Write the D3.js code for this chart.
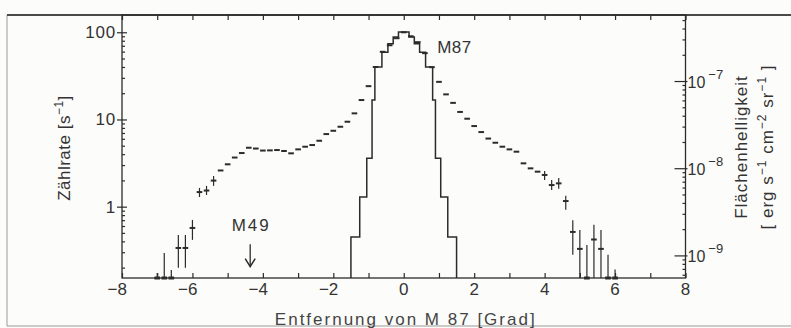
<!DOCTYPE html>
<html>
<head>
<meta charset="utf-8">
<script src="https://cdn.jsdelivr.net/npm/d3@7"></script>
<style>
  body { margin: 0; background: #fcfcfa; }
  svg { display: block; font-family: "Liberation Sans", Arial, sans-serif; }
  .axis .domain { display: none; }
  .axis line { stroke: #2b2b2b; stroke-width: 1.2; }
</style>
</head>
<body>
<div id="chart"></div>
<script>
// Distance from M87 in degrees (profile bins)
var distances = [-7.0, -6.8, -6.6, -6.4, -6.2, -6.0, -5.8, -5.6, -5.4, -5.2, -5.0, -4.8, -4.6, -4.4, -4.2, -4.0,
  -3.8, -3.6, -3.4, -3.2, -3.0, -2.8, -2.6, -2.4, -2.2, -2.0, -1.8, -1.6, -1.4, -1.2, -1.0, -0.8, -0.6, -0.4, -0.2,
  0.0, 0.2, 0.4, 0.6, 0.8, 1.0, 1.2, 1.4, 1.6, 1.8, 2.0, 2.2, 2.4, 2.6, 2.8, 3.0, 3.2, 3.4, 3.6, 3.8, 4.0,
  4.2, 4.4, 4.6, 4.8, 5.0, 5.2, 5.4, 5.6, 5.8, 6.0];

// Count rate [s^-1]; 0.1 = below the plotted range (drawn on the axis)
var countRate = [0.1, 0.1, 0.1, 0.336, 0.336, 0.57, 1.47, 1.53, 1.99, 2.6, 3.06, 3.66, 4.12, 4.74, 4.64, 4.4,
  4.42, 4.46, 4.35, 4.09, 4.54, 4.87, 5.09, 5.7, 6.8, 7.42, 8.25, 9.42, 11.75, 16.7, 24.1, 40, 59.7, 71, 85.5,
  100, 90, 77, 57.6, 39.8, 27, 19.4, 15.5, 12.2, 10.2, 8.4, 7.17, 6.04, 5.41, 4.87, 4.54, 4.27, 3.14, 2.75, 2.52, 2.31,
  1.77, 1.85, 1.16, 0.513, 0.328, 0.1, 0.42, 0.328, 0.1, 0.1];

// Error bars that are visible in the figure
var errDist = [-7.0, -6.8, -6.6, -6.4, -6.2, -6.0, -5.8, -5.6, -5.4, 4.0, 4.2, 4.4, 4.6, 4.8, 5.0, 5.2, 5.4, 5.6, 5.8, 6.0];
var errHigh = [0.174, 0.295, 0.188, 0.474, 0.474, 0.705, 1.64, 1.73, 2.25, 2.56, 2.02, 2.13, 1.33, 0.70, 0.54, 0.364, 0.62, 0.54, 0.28, 0.19];
var errLow  = [0.1, 0.1, 0.1, 0.199, 0.199, 0.416, 1.29, 1.36, 1.73, 2.02, 1.55, 1.6, 0.92, 0.28, 0.1, 0.1, 0.1, 0.1, 0.1, 0.1];

// Point response of the telescope (step histogram)
var psfEdges  = [-1.5, -1.25, -1.05, -0.9, -0.82, -0.62, -0.45, -0.3, -0.15, 0.15, 0.3, 0.45, 0.62, 0.82, 0.9, 1.05, 1.25, 1.5];
var psfLevels = [0.45, 1.29, 3.6, 16.7, 40, 59, 74, 88, 101, 88, 74, 59, 40, 16.7, 3.6, 1.29, 0.45];

var xTicks = [-8, -6, -4, -2, 0, 2, 4, 6, 8];
var yTicks = [1, 10, 100];
var sbTicks = [1e-9, 1e-8, 1e-7];
var sbTickExp = ['9', '8', '7'];

// 27.6 counts/s correspond to 1e-7 erg s^-1 cm^-2 sr^-1
var sbPerRate = 1e-7 / 27.6;

var width = 791,
  height = 328;

var ink = '#2b2b2b';

var svg = d3.select('#chart')
  .append('svg')
  .attr('width', width)
  .attr('height', height);

var x = d3.scaleLinear()
  .domain([-8, 8])
  .range([122, 685.5]);

var y = d3.scaleLog()
  .domain([0.152, 157.8])
  .range([278, 15])
  .clamp(true);

var y2 = d3.scaleLog()
  .domain(y.domain().map(function(v) { return v * sbPerRate; }))
  .range(y.range());

var x0 = x.range()[0], x1 = x.range()[1];
var yTop = y.range()[1], yBot = y.range()[0];

// Scanned page frame
svg.append('path')
  .attr('d', 'M7,15V326H791')
  .attr('fill', 'none')
  .attr('stroke', '#9a9a9a')
  .attr('stroke-width', 1);

svg.append('line')
  .attr('x1', 7).attr('x2', 791)
  .attr('y1', yTop).attr('y2', yTop)
  .attr('stroke', '#4a4a4a')
  .attr('stroke-width', 2);

// Plot box
svg.append('rect')
  .attr('x', x0).attr('y', yTop)
  .attr('width', x1 - x0).attr('height', yBot - yTop)
  .attr('fill', 'none')
  .attr('stroke', ink)
  .attr('stroke-width', 1.3);

// Ticks on bottom and top, every degree
svg.append('g')
  .attr('class', 'axis')
  .attr('transform', 'translate(0,' + yBot + ')')
  .call(d3.axisBottom(x).tickValues(d3.range(-8, 9)).tickSize(-5).tickFormat(''));

svg.append('g')
  .attr('class', 'axis')
  .attr('transform', 'translate(0,' + yTop + ')')
  .call(d3.axisTop(x).tickValues(d3.range(-8, 9)).tickSize(-5).tickFormat(''));

// X tick labels (digit centred on the tick, minus hanging to the left)
svg.append('g')
  .selectAll('text')
  .data(xTicks)
  .enter()
  .append('text')
  .attr('x', function(d) { return x(d) + (d < 0 ? 5 : 0); })
  .attr('y', 295)
  .attr('text-anchor', function(d) { return d < 0 ? 'end' : 'middle'; })
  .attr('font-size', 17)
  .attr('fill', '#333')
  .text(function(d) { return d < 0 ? '\u2212' + Math.abs(d) : d; });

// Left axis: major ticks crossing the axis, minor ticks inside
var minorY = y.ticks().filter(function(d) { return yTicks.indexOf(d) < 0; });

svg.append('g')
  .attr('class', 'axis')
  .attr('transform', 'translate(' + (x0 + 5) + ',0)')
  .call(d3.axisLeft(y).tickValues(yTicks).tickSize(10).tickFormat(''));

svg.append('g')
  .attr('class', 'axis')
  .attr('transform', 'translate(' + x0 + ',0)')
  .call(d3.axisRight(y).tickValues(minorY).tickSize(3).tickFormat(''));

svg.append('g')
  .selectAll('text')
  .data(yTicks)
  .enter()
  .append('text')
  .attr('x', 116)
  .attr('y', function(d) { return y(d) + 6; })
  .attr('text-anchor', 'end')
  .attr('font-size', 17)
  .attr('letter-spacing', 0.8)
  .attr('fill', '#333')
  .text(function(d) { return d; });

// Right axis: surface brightness
var minorSB = y2.ticks().filter(function(d) {
  var e = Math.log10(d);
  return Math.abs(e - Math.round(e)) > 1e-6;
});

svg.append('g')
  .attr('class', 'axis')
  .attr('transform', 'translate(' + (x1 + 2) + ',0)')
  .call(d3.axisLeft(y2).tickValues(sbTicks).tickSize(13).tickFormat(''));

svg.append('g')
  .attr('class', 'axis')
  .attr('transform', 'translate(' + x1 + ',0)')
  .call(d3.axisLeft(y2).tickValues(minorSB).tickSize(3).tickFormat(''));

var sbLab = svg.append('g')
  .selectAll('text')
  .data(sbTicks)
  .enter()
  .append('text')
  .attr('x', x1 + 2)
  .attr('y', function(d) { return y2(d) + 7; })
  .attr('font-size', 16)
  .attr('fill', '#333');

sbLab.append('tspan').text('10');
sbLab.append('tspan')
  .attr('dx', 3)
  .attr('dy', -9)
  .attr('font-size', 13)
  .text(function(d, i) { return '\u2212' + sbTickExp[i]; });

// Axis titles
var yTitle = svg.append('text')
  .attr('transform', 'translate(70,148) rotate(-90)')
  .attr('text-anchor', 'middle')
  .attr('font-size', 17)
  .attr('letter-spacing', 0.5)
  .attr('fill', '#333');
yTitle.append('tspan').text('Zählrate [s');
yTitle.append('tspan').attr('dy', -7).attr('font-size', 12).text('\u22121');
yTitle.append('tspan').attr('dy', 7).text(']');

svg.append('text')
  .attr('transform', 'translate(747,147) rotate(-90)')
  .attr('text-anchor', 'middle')
  .attr('font-size', 17)
  .attr('letter-spacing', 1)
  .attr('fill', '#333')
  .text('Flächenhelligkeit');

var sbTitle = svg.append('text')
  .attr('transform', 'translate(773,147) rotate(-90)')
  .attr('text-anchor', 'middle')
  .attr('font-size', 17)
  .attr('letter-spacing', 1)
  .attr('fill', '#333');
var sbParts = [['[ erg s', '\u22121'], [' cm', '\u22122'], [' sr', '\u22121']];
sbParts.forEach(function(p, i) {
  sbTitle.append('tspan').attr('dy', i === 0 ? 0 : 7).text(p[0]);
  sbTitle.append('tspan').attr('dy', -7).attr('font-size', 12).text(p[1]);
});
sbTitle.append('tspan').attr('dy', 7).text(' ]');

svg.append('text')
  .attr('x', (x0 + x1) / 2 + 2)
  .attr('y', 325)
  .attr('text-anchor', 'middle')
  .attr('font-size', 17)
  .attr('letter-spacing', 2)
  .attr('fill', '#444')
  .text('Entfernung von M 87 [Grad]');

// Step histogram
var psfPoints = [{ x: psfEdges[0], v: y.domain()[0] }];
psfLevels.forEach(function(v, i) {
  psfPoints.push({ x: psfEdges[i], v: v });
});
psfPoints.push({ x: psfEdges[psfEdges.length - 1], v: y.domain()[0] });

var psfLine = d3.line()
  .curve(d3.curveStepAfter)
  .x(function(d) { return x(d.x); })
  .y(function(d) { return y(d.v); });

svg.append('path')
  .datum(psfPoints)
  .attr('d', psfLine)
  .attr('fill', 'none')
  .attr('stroke', ink)
  .attr('stroke-width', 1.5);

// Error bars
svg.append('g')
  .selectAll('line')
  .data(errDist)
  .enter()
  .append('line')
  .attr('x1', function(d) { return x(d); })
  .attr('x2', function(d) { return x(d); })
  .attr('y1', function(d, i) { return y(errHigh[i]); })
  .attr('y2', function(d, i) { return y(errLow[i]); })
  .attr('stroke', ink)
  .attr('stroke-width', 1.2);

// Profile points as short horizontal bars
var halfBin = 0.08;
svg.append('g')
  .selectAll('line')
  .data(distances)
  .enter()
  .append('line')
  .attr('x1', function(d) { return x(d - halfBin); })
  .attr('x2', function(d) { return x(d + halfBin); })
  .attr('y1', function(d, i) { return y(countRate[i]); })
  .attr('y2', function(d, i) { return y(countRate[i]); })
  .attr('stroke', ink)
  .attr('stroke-width', function(d, i) { return countRate[i] < y.domain()[0] ? 3 : 2; });

// Annotations
svg.append('text')
  .attr('x', x(0.95))
  .attr('y', y(57.6))
  .attr('font-size', 17)
  .attr('letter-spacing', 0.5)
  .attr('fill', '#333')
  .text('M87');

var m49 = -4.36;
svg.append('text')
  .attr('x', x(m49) + 1)
  .attr('y', y(0.37) - 13)
  .attr('text-anchor', 'middle')
  .attr('font-size', 17)
  .attr('letter-spacing', 2)
  .attr('fill', '#333')
  .text('M49');

svg.append('line')
  .attr('x1', x(m49)).attr('x2', x(m49))
  .attr('y1', y(0.37)).attr('y2', y(0.205))
  .attr('stroke', ink)
  .attr('stroke-width', 1.3);

svg.append('path')
  .attr('d', 'M' + (x(m49) - 5) + ',' + (y(0.205) - 8) + 'L' + x(m49) + ',' + y(0.205) + 'L' + (x(m49) + 5) + ',' + (y(0.205) - 8))
  .attr('fill', 'none')
  .attr('stroke', ink)
  .attr('stroke-width', 1.5);
</script>
</body>
</html>
